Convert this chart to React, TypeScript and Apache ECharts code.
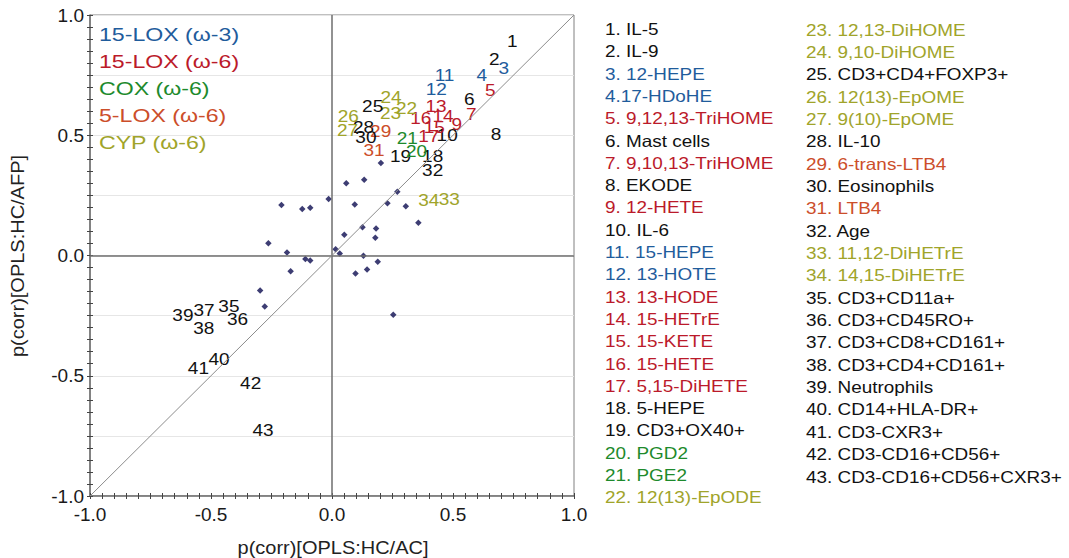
import React, { useEffect, useRef } from "react";
import * as echarts from "echarts";

const FONT = "'Liberation Sans', Arial, sans-serif";

// Unlabelled observation dots
const dotsX = [0.202, 0.059, 0.133, -0.014, -0.209, -0.123, -0.09, 0.094, 0.27, 0.229, 0.305, 0.357, 0.126, 0.182, 0.051, 0.179, -0.263, -0.186, 0.015, 0.032, 0.13, -0.11, -0.09, 0.189, -0.171, 0.145, 0.097, -0.297, -0.278, 0.253];
const dotsY = [0.385, 0.3, 0.315, 0.235, 0.21, 0.193, 0.199, 0.2125, 0.265, 0.217, 0.205, 0.136, 0.117, 0.1125, 0.086, 0.074, 0.051, 0.0125, 0.026, 0.008, -0.001, -0.015, -0.021, -0.026, -0.065, -0.058, -0.075, -0.146, -0.2125, -0.246];

// Numbered variable labels (1..43)
const labelNums = Array.from({ length: 43 }, (_, i) => i + 1);
const labelX = [0.745, 0.671, 0.71, 0.619, 0.654, 0.567, 0.576, 0.678, 0.516, 0.476, 0.465, 0.431, 0.43, 0.459, 0.423, 0.367, 0.4, 0.416, 0.283, 0.349, 0.311, 0.308, 0.242, 0.244, 0.168, 0.067, 0.064, 0.13, 0.201, 0.14, 0.174, 0.416, 0.485, 0.4, -0.426, -0.39, -0.529, -0.53, -0.616, -0.467, -0.552, -0.336, -0.285];
const labelY = [0.89, 0.814, 0.779, 0.751, 0.685, 0.65, 0.585, 0.505, 0.546, 0.499, 0.747, 0.692, 0.62, 0.58, 0.532, 0.571, 0.495, 0.411, 0.411, 0.435, 0.4875, 0.6125, 0.592, 0.657, 0.62, 0.58, 0.52, 0.533, 0.518, 0.49, 0.439, 0.353, 0.233, 0.228, -0.21, -0.265, -0.228, -0.301, -0.249, -0.433, -0.468, -0.533, -0.728];

const itemNames = [
  "1. IL-5", "2. IL-9", "3. 12-HEPE", "4.17-HDoHE", "5. 9,12,13-TriHOME", "6. Mast cells",
  "7. 9,10,13-TriHOME", "8. EKODE", "9. 12-HETE", "10. IL-6", "11. 15-HEPE", "12. 13-HOTE",
  "13. 13-HODE", "14. 15-HETrE", "15. 15-KETE", "16. 15-HETE", "17. 5,15-DiHETE", "18. 5-HEPE",
  "19. CD3+OX40+", "20. PGD2", "21. PGE2", "22. 12(13)-EpODE", "23. 12,13-DiHOME", "24. 9,10-DiHOME",
  "25. CD3+CD4+FOXP3+", "26. 12(13)-EpOME", "27. 9(10)-EpOME", "28. IL-10", "29. 6-trans-LTB4",
  "30. Eosinophils", "31. LTB4", "32. Age", "33. 11,12-DiHETrE", "34. 14,15-DiHETrE", "35. CD3+CD11a+",
  "36. CD3+CD45RO+", "37. CD3+CD8+CD161+", "38. CD3+CD4+CD161+", "39. Neutrophils", "40. CD14+HLA-DR+",
  "41. CD3-CXR3+", "42. CD3-CD16+CD56+", "43. CD3-CD16+CD56+CXR3+",
];
// k = other, b = 15-LOX (w-3), r = 15-LOX (w-6), g = COX, o = 5-LOX, y = CYP
const itemGroup = [
  "k", "k", "b", "b", "r", "k", "r", "k", "r", "k", "b", "b",
  "r", "r", "r", "r", "r", "k", "k", "g", "g", "y", "y", "y",
  "k", "y", "y", "k", "o", "k", "o", "k", "y", "y", "k",
  "k", "k", "k", "k", "k", "k", "k", "k",
];

const groupNames = ["15-LOX (ω-3)", "15-LOX (ω-6)", "COX (ω-6)", "5-LOX (ω-6)", "CYP (ω-6)"];
const groupKeys = ["b", "r", "g", "o", "y"];

const COLORS: Record<string, string> = {
  k: "#111111",
  b: "#1f5c9c",
  r: "#bb1a2a",
  g: "#1d8a2c",
  o: "#cc4e2a",
  y: "#a0a42a",
};

export default function App() {
  const ref = useRef<HTMLDivElement>(null);
  useEffect(() => {
    if (!ref.current) return;
    const chart = echarts.init(ref.current, null, { renderer: "svg" });

    const graphics: any[] = [];
    groupNames.forEach((g, i) => {
      graphics.push({
        type: "text",
        x: 99,
        y: 34 + i * 27.2,
        scaleX: 1.25,
        style: { text: g, fill: COLORS[groupKeys[i]], fontSize: 18.5, fontFamily: FONT, align: "left", verticalAlign: "middle" },
      });
    });
    itemNames.forEach((name, i) => {
      const left = i < 22;
      const x = left ? 605 : 806;
      const y = left ? 29.5 + i * 22.3 : 30 + (i - 22) * 22.35;
      graphics.push({
        type: "text",
        x,
        y,
        scaleX: 1.16,
        style: { text: name, fill: COLORS[itemGroup[i]], fontSize: 16.3, fontFamily: FONT, align: "left", verticalAlign: "middle" },
      });
    });
    graphics.push({
      type: "text",
      x: 333,
      y: 548,
      scaleX: 1.08,
      style: { text: "p(corr)[OPLS:HC/AC]", fill: "#222", fontSize: 18.5, fontFamily: FONT, align: "center", verticalAlign: "middle" },
    });
    graphics.push({
      type: "text",
      x: 18,
      y: 256,
      rotation: Math.PI / 2,
      scaleX: 1.08,
      style: { text: "p(corr)[OPLS:HC/AFP]", fill: "#222", fontSize: 18.5, fontFamily: FONT, align: "center", verticalAlign: "middle" },
    });

    const tickLabel = { fontSize: 19, fontFamily: FONT, color: "#1a1a1a" };

    chart.setOption({
      animation: false,
      grid: { left: 90, top: 15, width: 484, height: 481, show: true, borderColor: "#808080", borderWidth: 1, backgroundColor: "transparent" },
      xAxis: [
        {
          type: "value", min: -1, max: 1, interval: 0.5,
          axisLine: { show: true, onZero: false, lineStyle: { color: "#6e6e6e", width: 1.5 } },
          axisTick: { show: true, inside: true, length: 3, lineStyle: { color: "#444" } },
          minorTick: { show: true, splitNumber: 10, length: 3, lineStyle: { color: "#444" } },
          axisLabel: { ...tickLabel, margin: 9, formatter: (v: number) => v.toFixed(1) },
          splitLine: { show: false },
        },
        {
          type: "value", min: -1, max: 1, interval: 0.5, position: "bottom",
          axisLine: { show: false, onZero: false },
          axisTick: { show: true, inside: false, length: 3, lineStyle: { color: "#444" } },
          minorTick: { show: true, splitNumber: 10, length: 3, lineStyle: { color: "#444" } },
          axisLabel: { show: false },
          splitLine: { show: false },
        },
      ],
      yAxis: [
        {
          type: "value", min: -1, max: 1, interval: 0.25,
          axisLine: { show: true, onZero: false, lineStyle: { color: "#6e6e6e", width: 1.5 } },
          axisTick: { show: true, inside: true, length: 3, lineStyle: { color: "#444" } },
          minorTick: { show: true, splitNumber: 5, length: 3, lineStyle: { color: "#444" } },
          axisLabel: {
            ...tickLabel, margin: 6,
            formatter: (v: number) => (Math.abs(v * 2 - Math.round(v * 2)) < 1e-6 ? v.toFixed(1) : ""),
          },
          splitLine: { show: true, lineStyle: { color: "#e6e6e6", width: 1 } },
        },
        {
          type: "value", min: -1, max: 1, interval: 0.25, position: "left",
          axisLine: { show: false, onZero: false },
          axisTick: { show: true, inside: false, length: 3, lineStyle: { color: "#444" } },
          minorTick: { show: true, splitNumber: 5, length: 3, lineStyle: { color: "#444" } },
          axisLabel: { show: false },
          splitLine: { show: false },
        },
      ],
      graphic: graphics,
      series: [
        {
          type: "scatter",
          symbol: "diamond",
          symbolSize: 6.5,
          itemStyle: { color: "#0c0c50" },
          data: dotsX.map((x, i) => [x, dotsY[i]]),
          z: 3,
          markLine: {
            silent: true,
            symbol: "none",
            animation: false,
            label: { show: false },
            data: [
              { xAxis: 0, lineStyle: { color: "#6e6e6e", width: 1.5, type: "solid" } },
              { yAxis: 0, lineStyle: { color: "#6e6e6e", width: 1.5, type: "solid" } },
              [
                { coord: [-1, -1], lineStyle: { color: "#8c8c8c", width: 1, type: "solid" } },
                { coord: [1, 1] },
              ],
            ],
          },
        },
        {
          type: "custom",
          coordinateSystem: "cartesian2d",
          z: 4,
          data: labelNums.map((n, i) => [labelX[i], labelY[i], n]),
          renderItem: (params: any, api: any) => {
            const i = params.dataIndex;
            const p = api.coord([api.value(0), api.value(1)]);
            return {
              type: "text",
              x: p[0],
              y: p[1],
              scaleX: 1.12,
              style: {
                text: String(labelNums[i]),
                fill: COLORS[itemGroup[i]],
                fontSize: 17,
                fontFamily: FONT,
                align: "center",
                verticalAlign: "middle",
              },
            };
          },
        },
      ],
    });
    return () => chart.dispose();
  }, []);
  return <div ref={ref} style={{ position: "absolute", left: 0, top: 0, width: 1069, height: 558, background: "#fff" }} />;
}
